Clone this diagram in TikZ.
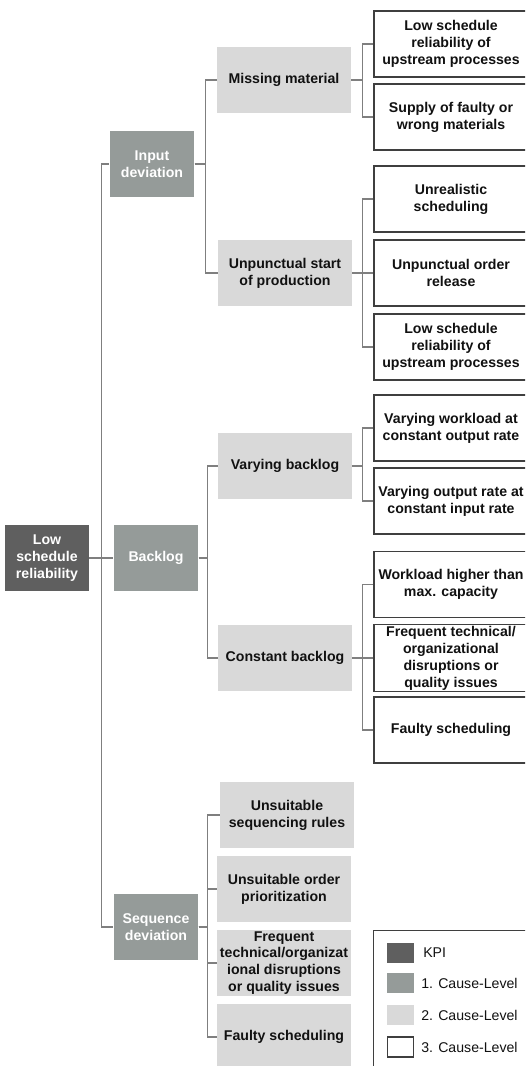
\documentclass[tikz,border=0pt]{standalone}
\usepackage{fontspec}
\setmainfont{Liberation Sans}
\begin{document}
\begin{tikzpicture}[x=0.75pt,y=-0.75pt,
  base/.style={rectangle,inner sep=1pt,align=center,font=\fontsize{10.6}{12.7}\selectfont\bfseries,minimum height=49.5pt},
  kpi/.style={base,fill=kpigray,text=white,minimum width=63pt},
  lvlone/.style={base,fill=onegray,text=white,minimum width=63.5pt},
  lvltwo/.style={base,fill=twogray,text=txt,minimum width=100.5pt},
  lvlthree/.style={base,fill=white,draw=boxborder,line width=0.8pt,text=txt,minimum width=115.5pt},
  conn/.style={draw=linegray,line width=0.8pt},
  swatch/.style={rectangle,inner sep=0pt,minimum width=20pt,minimum height=15pt},
  legtext/.style={anchor=west,inner sep=0pt,font=\fontsize{10.6}{12.7}\selectfont,text=txt}
]
\definecolor{kpigray}{HTML}{5F5F5F}
\definecolor{onegray}{HTML}{959B99}
\definecolor{twogray}{HTML}{D9D9D9}
\definecolor{boxborder}{HTML}{3F3F3F}
\definecolor{linegray}{HTML}{7F7F7F}
\definecolor{txt}{HTML}{111111}
\useasboundingbox (0,0) rectangle (525,1066);
\clip (0,0) rectangle (525,1066);

% KPI
\node[kpi] (kpi) at (47,558) {Low\\schedule\\reliability};
% level 1
\node[lvlone] (inp) at (152,164) {Input\\deviation};
\node[lvlone] (bkl) at (156,558) {Backlog};
\node[lvlone] (seq) at (156,927) {Sequence\\deviation};
% level 2
\node[lvltwo] (mis) at (284,80) {Missing material};
\node[lvltwo] (ups) at (285,273) {Unpunctual start\\of production};
\node[lvltwo] (vbl) at (285,466) {Varying backlog};
\node[lvltwo] (cbl) at (285,658) {Constant backlog};
\node[lvltwo] (usr) at (287,815) {Unsuitable\\sequencing rules};
\node[lvltwo] (uop) at (284,889) {Unsuitable order\\prioritization};
\node[lvltwo] (ftd) at (284,963) {Frequent\\technical/organizat\\ional disruptions\\or quality issues};
\node[lvltwo] (fsq) at (284,1037) {Faulty scheduling};
% level 3
\node[lvlthree] (a1) at (451,44) {Low schedule\\reliability of\\upstream processes};
\node[lvlthree] (a2) at (451,117) {Supply of faulty or\\wrong materials};
\node[lvlthree] (b1) at (451,199) {Unrealistic\\scheduling};
\node[lvlthree] (b2) at (451,273) {Unpunctual order\\release};
\node[lvlthree] (b3) at (451,347) {Low schedule\\reliability of\\upstream processes};
\node[lvlthree] (c1) at (451,428) {Varying workload at\\constant output rate};
\node[lvlthree] (c2) at (451,501) {Varying output rate at\\constant input rate};
\node[lvlthree] (d1) at (451,584.5) {Workload higher than\\max. capacity};
\node[lvlthree] (d2) at (451,658) {Frequent technical/\\organizational\\disruptions or\\quality issues};
\node[lvlthree] (d3) at (451,730) {Faulty scheduling};

% connectors
\foreach \c in {inp,bkl,seq}{\draw[conn] (kpi.east) -- ++(12,0) |- (\c.west);}
\foreach \c in {mis,ups}{\draw[conn] (inp.east) -- ++(11,0) |- (\c.west);}
\foreach \c in {vbl,cbl}{\draw[conn] (bkl.east) -- ++(9,0) |- (\c.west);}
\foreach \c in {usr,uop,ftd,fsq}{\draw[conn] (seq.east) -- ++(9,0) |- (\c.west);}
\foreach \c in {a1,a2}{\draw[conn] (mis.east) -- ++(11,0) |- (\c.west);}
\foreach \c in {b1,b2,b3}{\draw[conn] (ups.east) -- ++(10,0) |- (\c.west);}
\foreach \c in {c1,c2}{\draw[conn] (vbl.east) -- ++(10,0) |- (\c.west);}
\foreach \c in {d1,d2,d3}{\draw[conn] (cbl.east) -- ++(10,0) |- (\c.west);}

% legend
\node[draw=boxborder,line width=0.8pt,rectangle,minimum width=130pt,minimum height=120pt,anchor=north west,inner sep=0pt] (leg) at (373,930) {};
\node[swatch,fill=kpigray] (s0) at (400.5,953) {};
\node[swatch,fill=onegray] (s1) at (400.5,983) {};
\node[swatch,fill=twogray] (s2) at (400.5,1015) {};
\node[swatch,draw=boxborder,line width=0.8pt,fill=white] (s3) at (400.5,1047) {};
\node[legtext] (t0) at (423,953) {KPI};
\node[legtext] (t1) at (421,983) {1. Cause-Level};
\node[legtext] (t2) at (421,1015) {2. Cause-Level};
\node[legtext] (t3) at (421,1047) {3. Cause-Level};
\end{tikzpicture}
\end{document}
